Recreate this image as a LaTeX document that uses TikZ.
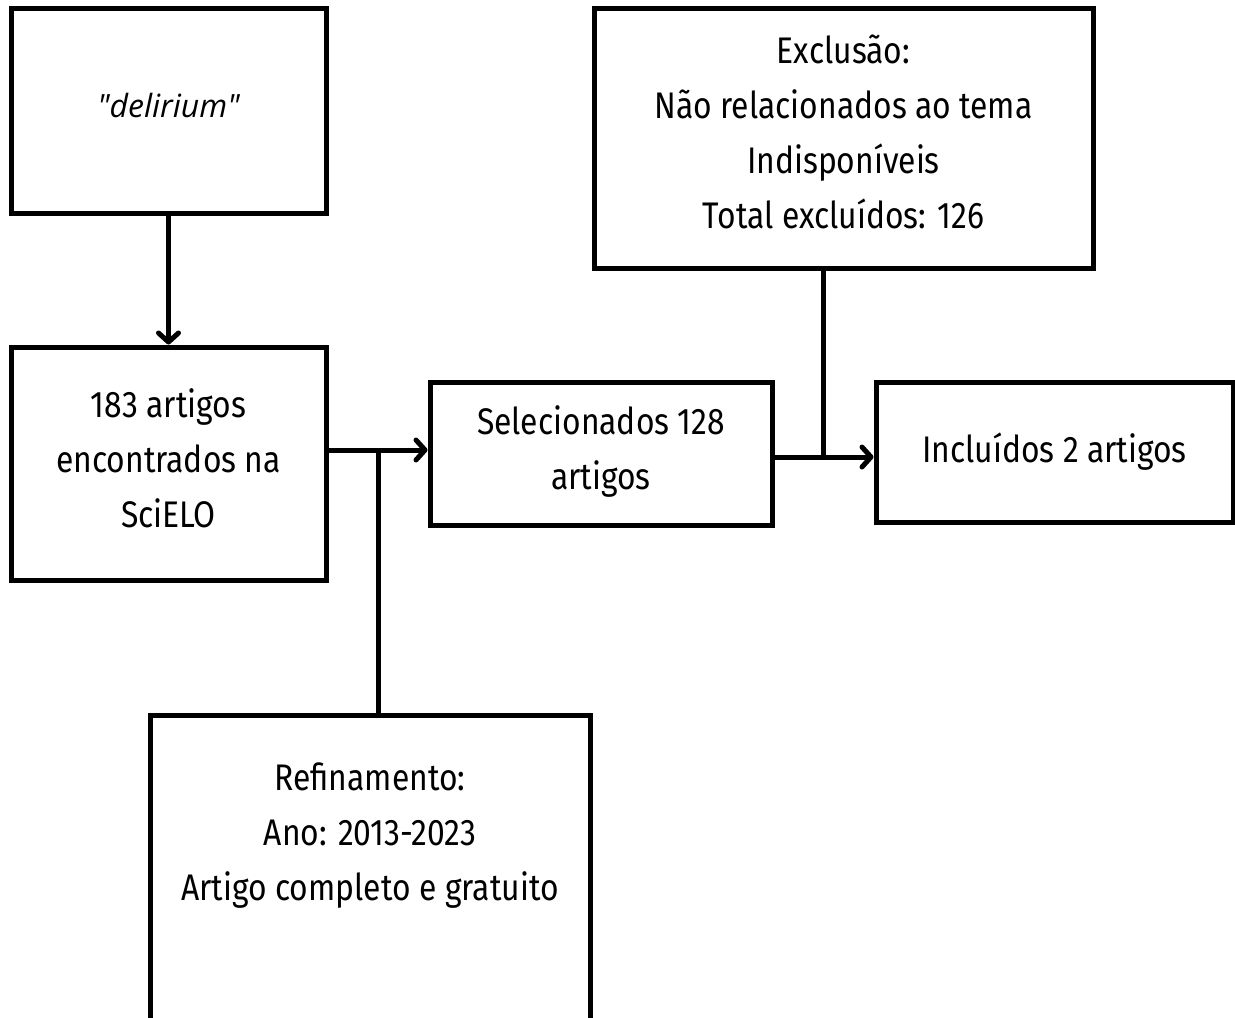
\documentclass[tikz,border=0pt]{standalone}
\usepackage{fontspec}
\setmainfont{Fira Sans}[FakeStretch=0.86]
\newfontfamily\delfont{Open Sans}
\usetikzlibrary{arrows.meta}
\begin{document}
\begin{tikzpicture}[x=1pt,y=-1pt,
  box/.style={draw=black, line width=5pt, fill=white, inner sep=0pt, align=center,
    font=\fontsize{37}{55}\selectfont},
  conn/.style={line width=5pt},
  arr/.style={conn, -{Straight Barb[length=9pt,width=20pt,line cap=round,line join=round]}}]
\useasboundingbox (0,0) rectangle (1235,1018);
\fill[white] (0,0) rectangle (1235,1018);
\node[box, minimum width=315, minimum height=205] (del) at (168.5,110.5) {\raisebox{10pt}{\delfont\itshape\fontsize{32}{40}\selectfont "delirium"}};
\node[box, minimum width=315, minimum height=233] (found) at (168.5,463.5) {183 artigos\\encontrados na\\SciELO\\[-44pt]};
\node[box, minimum width=342, minimum height=143] (sel) at (601,453.5) {Selecionados 128\\artigos\\[-43pt]};
\node[box, minimum width=357, minimum height=140] (inc) at (1054.5,452) {\raisebox{4pt}{Incluídos 2 artigos}};
\node[box, minimum width=499, minimum height=260] (exc) at (843.5,138) {Exclusão:\\Não relacionados ao tema\\Indisponíveis\\Total excluídos: 126\\[-42pt]};
\node[box, minimum width=440, minimum height=400, anchor=north] (ref) at (370,713) {};
\node[inner sep=0pt, align=center, font=\fontsize{37}{55}\selectfont] (reftxt) at (370,836) {Refinamento:\\Ano: 2013-2023\\Artigo completo e gratuito};
\draw[arr] (del.south) -- (found.north);
\draw[arr] (found.east |- 0,450) -- (sel.west |- 0,450);
\coordinate (j1) at (378,450);
\draw[conn] (ref.north -| j1) -- (j1);
\draw[arr] (sel.east |- 0,457) -- (inc.west |- 0,457);
\coordinate (j2) at (823,457);
\draw[conn] (exc.south -| j2) -- (j2);
\end{tikzpicture}
\end{document}
